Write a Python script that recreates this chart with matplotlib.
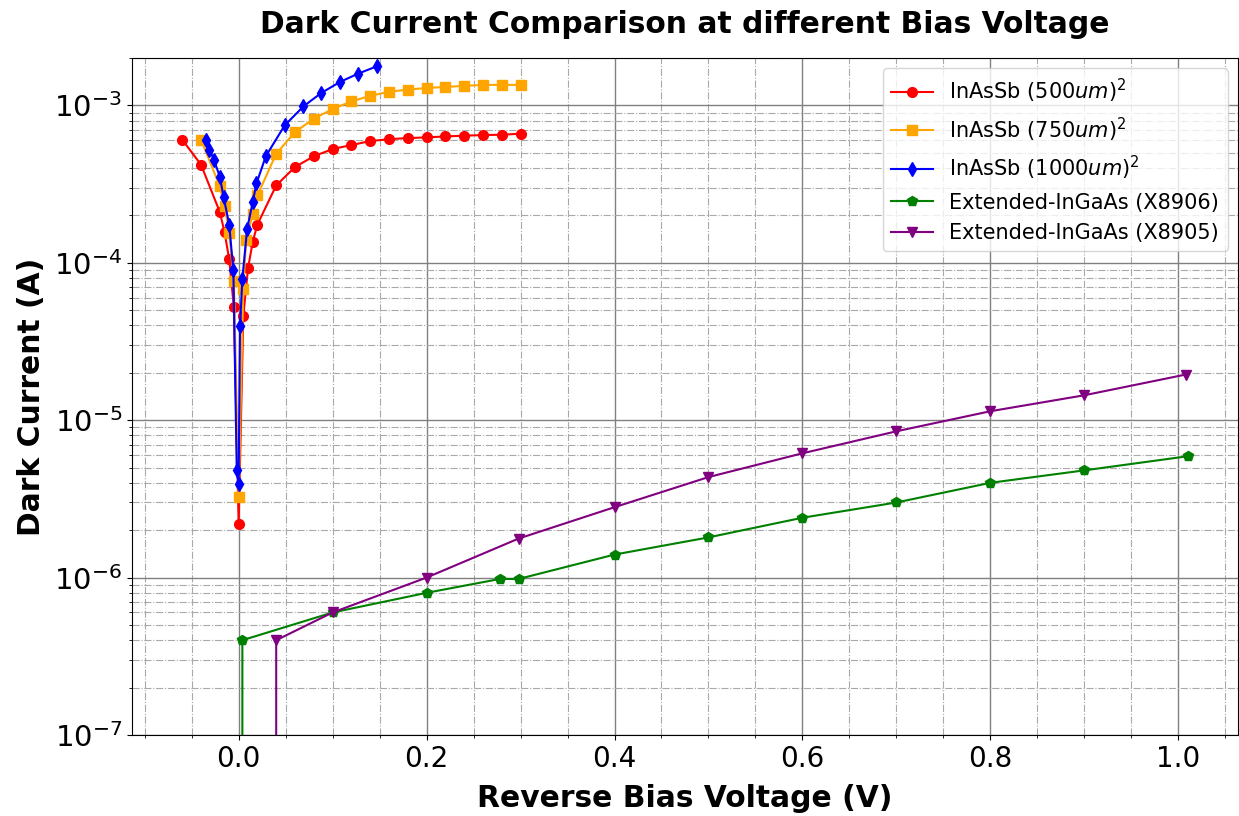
import matplotlib
matplotlib.use("Agg")
import matplotlib.pyplot as plt

# InAsSb (500um)^2
v_500 = [-0.06, -0.04, -0.02, -0.015, -0.01, -0.005, 0.0, 0.005, 0.01, 0.015, 0.02, 0.04,
         0.06, 0.08, 0.10, 0.12, 0.14, 0.16, 0.18, 0.20, 0.22, 0.24, 0.26, 0.28, 0.30]
i_500 = [6.05e-4, 4.2e-4, 2.1e-4, 1.57e-4, 1.05e-4, 5.2e-5, 2.2e-6, 4.6e-5, 9.2e-5, 1.36e-4, 1.75e-4, 3.1e-4,
         4.06e-4, 4.75e-4, 5.28e-4, 5.6e-4, 5.93e-4, 6.1e-4, 6.2e-4, 6.26e-4, 6.35e-4, 6.42e-4, 6.48e-4, 6.51e-4, 6.61e-4]

# InAsSb (750um)^2
v_750 = [-0.04, -0.02, -0.015, -0.01, -0.005, 0.0, 0.005, 0.008, 0.015, 0.02, 0.04,
         0.06, 0.08, 0.10, 0.12, 0.14, 0.16, 0.18, 0.20, 0.22, 0.24, 0.26, 0.28, 0.30]
i_750 = [6.05e-4, 3.06e-4, 2.3e-4, 1.55e-4, 7.7e-5, 3.26e-6, 6.85e-5, 1.39e-4, 2.05e-4, 2.68e-4, 4.93e-4,
         6.77e-4, 8.23e-4, 9.48e-4, 1.06e-3, 1.15e-3, 1.22e-3, 1.26e-3, 1.29e-3, 1.31e-3, 1.33e-3, 1.35e-3, 1.35e-3, 1.35e-3]

# InAsSb (1000um)^2
v_1000 = [-0.035, -0.031, -0.026, -0.02, -0.016, -0.01, -0.0056, -0.002, 0.0, 0.0015, 0.004, 0.009,
          0.015, 0.019, 0.029, 0.049, 0.069, 0.088, 0.108, 0.127, 0.147]
i_1000 = [6.0e-4, 5.24e-4, 4.48e-4, 3.51e-4, 2.62e-4, 1.75e-4, 8.95e-5, 4.86e-6, 3.91e-6, 3.96e-5, 7.94e-5, 1.63e-4,
          2.43e-4, 3.19e-4, 4.76e-4, 7.46e-4, 9.86e-4, 1.2e-3, 1.41e-3, 1.59e-3, 1.77e-3]

# Extended-InGaAs (X8906)
v_8906 = [0.004, 0.004, 0.1, 0.2, 0.278, 0.298, 0.4, 0.5, 0.6, 0.7, 0.8, 0.9, 1.01]
i_8906 = [0.0, 4e-7, 6e-7, 8e-7, 9.8e-7, 9.8e-7, 1.4e-6, 1.8e-6, 2.4e-6, 3e-6, 4e-6, 4.8e-6, 5.9e-6]

# Extended-InGaAs (X8905)
v_8905 = [0.04, 0.04, 0.1, 0.2, 0.298, 0.4, 0.5, 0.6, 0.7, 0.8, 0.9, 1.008]
i_8905 = [0.0, 4e-7, 6e-7, 1e-6, 1.77e-6, 2.8e-6, 4.35e-6, 6.16e-6, 8.5e-6, 1.14e-5, 1.44e-5, 1.95e-5]

fig = plt.figure(figsize=(12.39, 8.16), dpi=100)
ax = fig.add_axes([0.1065, 0.0993, 0.8927, 0.8296])

ax.plot(v_500, i_500, '-o', color='red', lw=1.5, ms=7, label='InAsSb (500$um$)$^2$')
ax.plot(v_750, i_750, '-s', color='orange', lw=1.5, ms=7, label='InAsSb (750$um$)$^2$')
ax.plot(v_1000, i_1000, '-d', color='blue', lw=1.5, ms=7, label='InAsSb (1000$um$)$^2$')
ax.plot(v_8906, i_8906, '-p', color='green', lw=1.5, ms=7, label='Extended-InGaAs (X8906)')
ax.plot(v_8905, i_8905, '-v', color='purple', lw=1.5, ms=7, label='Extended-InGaAs (X8905)')

ax.set_yscale('log')
ax.set_ylim(1e-7, 2e-3)
ax.set_xlim(-0.1135, 1.0635)
ax.minorticks_on()
ax.grid(which='major', color='gray', linestyle='-', linewidth=1.0)
ax.grid(which='minor', color='darkgray', linestyle='-.', linewidth=0.8)

ax.tick_params(axis='x', labelsize=20)
ax.tick_params(axis='y', labelsize=21)
ax.set_xlabel('Reverse Bias Voltage (V)', fontsize=21.4, fontweight='bold', labelpad=8)
ax.set_ylabel('Dark Current (A)', fontsize=21.4, fontweight='bold', labelpad=6)
ax.set_title('Dark Current Comparison at different Bias Voltage', fontsize=21.4, fontweight='bold', pad=18)
ax.legend(loc='upper right', fontsize=15)

fig.savefig('out.png', dpi=100)
